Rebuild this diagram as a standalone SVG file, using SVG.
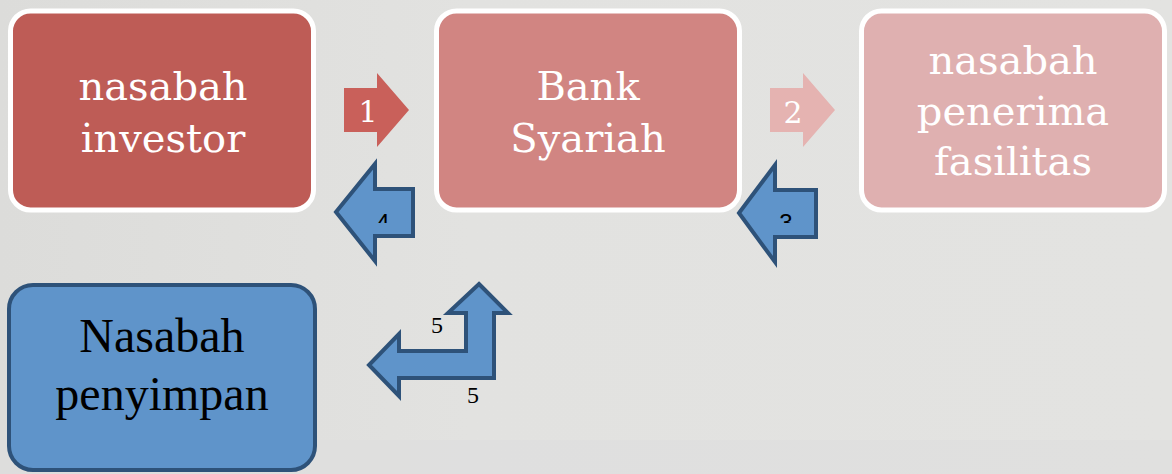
<svg xmlns="http://www.w3.org/2000/svg" width="1172" height="474" viewBox="0 0 1172 474">
  <defs>
    <linearGradient id="bg" x1="0" y1="0" x2="1" y2="0">
      <stop offset="0" stop-color="#dcdcda"/>
      <stop offset="0.4" stop-color="#e2e2e0"/>
      <stop offset="1" stop-color="#e3e3e1"/>
    </linearGradient>
    <clipPath id="clip4"><rect x="370" y="200" width="30" height="23"/></clipPath>
    <clipPath id="clip3"><rect x="772" y="200" width="30" height="23"/></clipPath>
  </defs>
  <style>
    .redbox { stroke: #ffffff; stroke-width: 5; }
    .wtxt { font-family: "DejaVu Serif", "Liberation Serif", serif; font-size: 40px; fill: #ffffff; text-anchor: middle; }
    .num { font-family: "DejaVu Serif", "Liberation Serif", serif; font-size: 30px; fill: #ffffff; text-anchor: middle; }
    .blue { fill: #5f94ca; stroke: #2e5279; stroke-width: 4; stroke-linejoin: miter; }
    .btxt { font-family: "Liberation Serif", "Times New Roman", serif; font-size: 48px; fill: #000000; text-anchor: middle; }
    .lbl { font-family: "Liberation Serif", "Times New Roman", serif; font-size: 24px; fill: #000000; text-anchor: middle; }
    .lbls { font-family: "Liberation Sans", Arial, sans-serif; font-size: 24px; fill: #000000; text-anchor: middle; }
  </style>
  <rect x="0" y="0" width="1172" height="474" fill="url(#bg)"/>
  <rect x="0" y="440" width="1172" height="34" fill="#dedede" opacity="0.6"/>

  <g id="node-investor">
    <rect class="redbox" x="10.5" y="11" width="303" height="199" rx="20" fill="#be5c56"/>
    <text class="wtxt" x="163" y="100">nasabah</text>
    <text class="wtxt" x="163" y="152">investor</text>
  </g>

  <g id="node-bank">
    <rect class="redbox" x="436.5" y="11" width="303" height="199" rx="20" fill="#d18582"/>
    <text class="wtxt" x="588" y="100">Bank</text>
    <text class="wtxt" x="588" y="152">Syariah</text>
  </g>

  <g id="node-penerima">
    <rect class="redbox" x="861.5" y="11" width="303" height="199" rx="20" fill="#dfb0b0"/>
    <text class="wtxt" x="1013" y="74">nasabah</text>
    <text class="wtxt" x="1013" y="125">penerima</text>
    <text class="wtxt" x="1013" y="175">fasilitas</text>
  </g>

  <g id="node-penyimpan">
    <rect class="blue" x="9" y="285" width="306" height="185" rx="24"/>
    <text class="btxt" x="162" y="352">Nasabah</text>
    <text class="btxt" x="162" y="410">penyimpan</text>
  </g>

  <g id="connectors">
    <g id="arrow-1">
      <polygon points="344,88 377,88 377,73 409,110 377,147 377,132 344,132" fill="#c9605a"/>
      <text class="num" x="368" y="122">1</text>
    </g>
    <g id="arrow-2">
      <polygon points="770,88 803,88 803,73 835,110 803,147 803,132 770,132" fill="#e5b3b1"/>
      <text class="num" x="793" y="123">2</text>
    </g>
    <g id="arrow-4">
      <polygon class="blue" points="413,189 375,189 375,164 336,212 375,261 375,236 413,236"/>
      <text class="lbls" x="383" y="231" clip-path="url(#clip4)">4</text>
    </g>
    <g id="arrow-3">
      <polygon class="blue" points="816,190 775,190 775,165 739,213 775,262 775,237 816,237"/>
      <text class="lbls" x="786" y="231" clip-path="url(#clip3)">3</text>
    </g>
    <g id="arrow-5">
      <polygon class="blue" points="479,284 508,313 494,313 494,378 399,378 399,396 369,365 399,334 399,351 466,351 466,313 448,313"/>
      <text class="lbl" x="437" y="333">5</text>
      <text class="lbl" x="473" y="403">5</text>
    </g>
  </g>
</svg>
